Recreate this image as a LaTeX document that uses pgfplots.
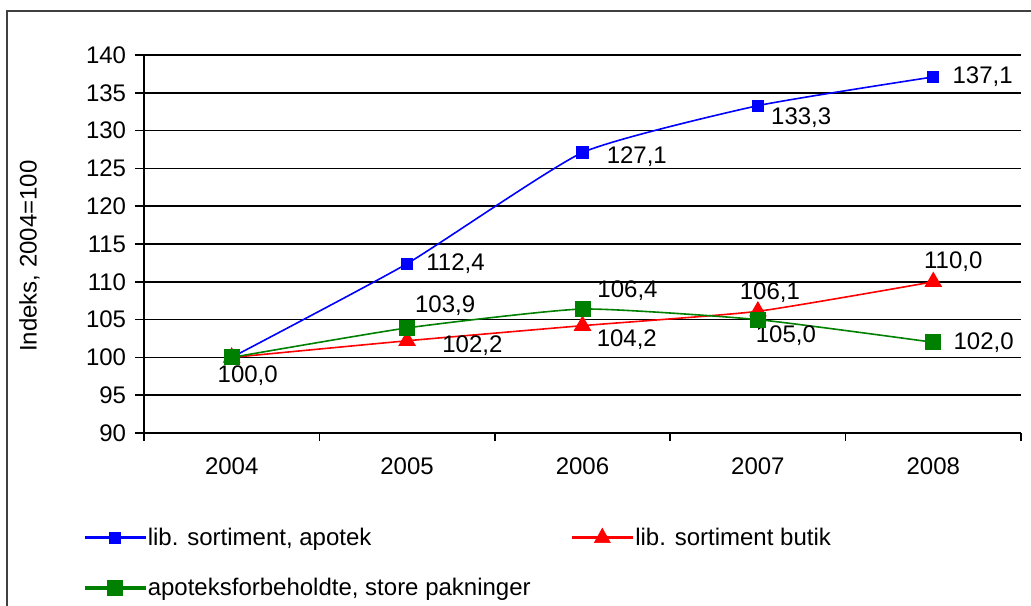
\documentclass[border=0pt]{standalone}
\usepackage{fontspec}
\setmainfont{Liberation Sans}
\usepackage{pgfplots}
\pgfplotsset{compat=1.18}
\definecolor{cblue}{RGB}{0,0,255}
\definecolor{cred}{RGB}{255,0,0}
\definecolor{cgreen}{RGB}{0,128,0}
\definecolor{cframe}{RGB}{64,64,64}
\begin{document}
\begin{tikzpicture}[font=\fontsize{18}{21.6}\selectfont]
\useasboundingbox (0,0) rectangle (773.25pt,-454.5pt);
\draw[cframe, line width=1.5pt] (5.6pt,-470pt) -- (5.6pt,-7.9pt) -- (790pt,-7.9pt);
\begin{axis}[
  at={(108pt,-324.75pt)}, anchor=south west,
  scale only axis, width=657.75pt, height=283.5pt,
  xmin=-0.5, xmax=4.5, ymin=90, ymax=140,
  xtick={0,...,4}, xticklabels={2004,2005,2006,2007,2008},
  minor xtick={-0.5,0.5,1.5,2.5,3.5,4.5},
  ytick={90,95,...,140},
  axis x line*=bottom, axis y line*=left,
  ymajorgrids, grid style={black, line width=1.1pt},
  axis line style={black, line width=1.2pt},
  tick align=outside,
  major tick length=6.75pt, minor tick length=6pt,
  major x tick style={draw=none},
  tick style={black, line width=1.1pt},
  /pgf/number format/assume math mode=true,
  yticklabel style={anchor=east, inner sep=0pt, xshift=-6.5pt},
  xticklabel style={anchor=center, inner sep=0pt, yshift=-18pt},
  ylabel={Indeks, 2004=100},
  ylabel style={at={(axis description cs:-0.1306,0.468)}, anchor=center},
  clip=false,
  legend columns=2,
  legend cell align=left,
  legend style={draw=none, fill=none, inner xsep=3pt, inner ysep=2pt,
    at={(axis description cs:-0.0726,-0.3427)}, anchor=west,
    nodes={inner xsep=2pt, inner ysep=4.5pt},
    row sep=14pt,
    /tikz/column 2/.style={column sep=29pt}},
]
\addlegendimage{legend image code/.code={%
  \fill[cblue] (0pt,-0.9pt) rectangle (45pt,0.9pt);
  \fill[cblue] (18.5pt,-4pt) rectangle (26.5pt,4pt);}}
\addlegendentry{lib. sortiment, apotek}
\addlegendimage{legend image code/.code={%
  \fill[cred] (0pt,-0.9pt) rectangle (45pt,0.9pt);
  \fill[cred] (16.5pt,-3.8pt) -- (28.5pt,-3.8pt) -- (22.5pt,7pt) -- cycle;}}
\addlegendentry{lib. sortiment butik}
\addlegendimage{legend image code/.code={%
  \fill[cgreen] (0pt,-0.9pt) rectangle (45pt,0.9pt);
  \fill[cgreen] (17pt,-5.5pt) rectangle (28pt,5.5pt);}}
\addlegendentry{apoteksforbeholdte, store pakninger}

\addplot[forget plot, cblue, line width=1.2pt, smooth, tension=0.3, mark=square*, mark size=4pt] coordinates {(0,100) (1,112.4) (2,127.1) (3,133.3) (4,137.1)};
\addplot[forget plot, cred, line width=1.2pt, smooth, tension=0.3, mark=triangle*, mark size=6.5pt] coordinates {(0,100) (1,102.2) (2,104.2) (3,106.1) (4,110.0)};
\addplot[forget plot, cgreen, line width=1.2pt, smooth, tension=0.3, mark=square*, mark size=5.4pt] coordinates {(0,100) (1,103.9) (2,106.4) (3,105.0) (4,102.0)};

\begin{scope}[every node/.style={inner sep=0pt}]
% blue
\node[anchor=center, xshift=12pt, yshift=-13.5pt] at (axis cs:0,100) {100,0};
\node[anchor=west, xshift=14.25pt] at (axis cs:1,112.4) {112,4};
\node[anchor=west, xshift=18pt, yshift=-3pt] at (axis cs:2,127.1) {127,1};
\node[anchor=west, xshift=9.75pt, yshift=-9pt] at (axis cs:3,133.3) {133,3};
\node[anchor=west, xshift=14.25pt] at (axis cs:4,137.1) {137,1};
% red
\node[anchor=west, xshift=26.25pt, yshift=-3.75pt] at (axis cs:1,102.2) {102,2};
\node[anchor=west, xshift=10.5pt, yshift=-10.5pt] at (axis cs:2,104.2) {104,2};
\node[anchor=center, xshift=9pt, yshift=14.25pt] at (axis cs:3,106.1) {106,1};
\node[anchor=center, xshift=15pt, yshift=15pt] at (axis cs:4,110.0) {110,0};
% green
\node[anchor=center, xshift=28.5pt, yshift=16.5pt] at (axis cs:1,103.9) {103,9};
\node[anchor=center, xshift=33.75pt, yshift=13.5pt] at (axis cs:2,106.4) {106,4};
\node[anchor=center, xshift=21pt, yshift=-12pt] at (axis cs:3,105.0) {105,0};
\node[anchor=west, xshift=15pt] at (axis cs:4,102.0) {102,0};
\end{scope}
\end{axis}
\end{tikzpicture}
\end{document}
